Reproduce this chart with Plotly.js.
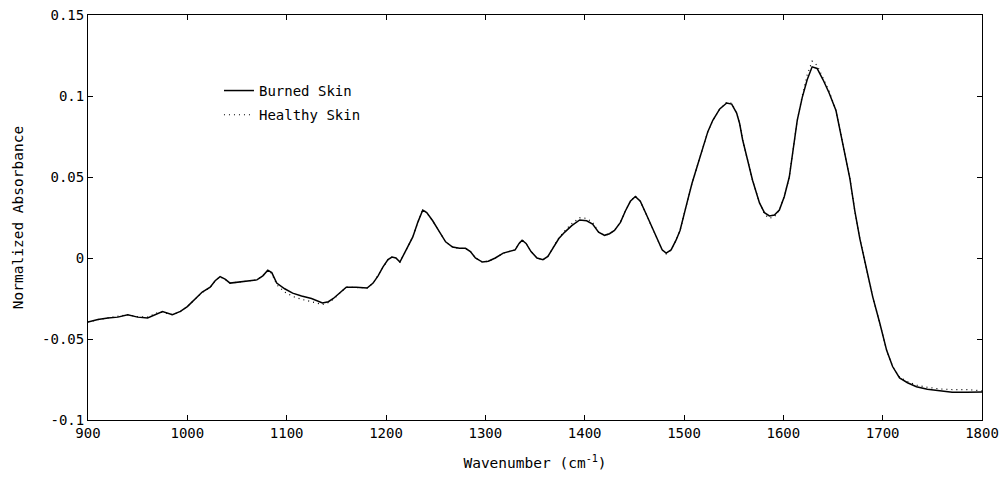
<!DOCTYPE html>
<html>
<head>
<meta charset="utf-8">
<script src="https://cdn.plot.ly/plotly-3.0.1.min.js"></script>
<style>html,body{margin:0;padding:0;background:#fff;}#chart{width:1002px;height:477px;}</style>
</head>
<body>
<div id="chart"></div>
<script>
const wavenumber = [900,910,920,930,940,950,960,970,975,985,993,1000,1008,1015,1023,1028,1033,1038,1043,1050,1060,1070,1076,1081,1085,1090,1098,1106,1115,1125,1136,1142,1147,1153,1160,1170,1181,1187,1192,1197,1202,1206,1210,1214,1218,1222,1227,1232,1237,1241,1247,1254,1260,1267,1274,1280,1285,1290,1297,1303,1310,1318,1325,1330,1334,1337,1341,1346,1352,1358,1363,1368,1374,1380,1387,1395,1402,1408,1414,1420,1425,1430,1436,1441,1446,1451,1456,1462,1468,1474,1478,1482,1487,1492,1496,1503,1508,1513,1519,1524,1529,1536,1543,1548,1553,1556,1559,1564,1569,1576,1581,1586,1591,1596,1601,1606,1610,1614,1619,1624,1629,1634,1640,1646,1653,1660,1667,1672,1677,1684,1690,1697,1704,1710,1717,1725,1734,1745,1757,1770,1785,1800];

const burnedSkin = [-0.0395,-0.038,-0.037,-0.0365,-0.035,-0.0365,-0.037,-0.034,-0.033,-0.035,-0.033,-0.030,-0.025,-0.021,-0.018,-0.014,-0.0115,-0.013,-0.0155,-0.015,-0.014,-0.0135,-0.011,-0.0075,-0.009,-0.0155,-0.019,-0.0217,-0.0235,-0.025,-0.0277,-0.027,-0.025,-0.022,-0.018,-0.018,-0.0185,-0.0155,-0.011,-0.0055,-0.001,0.0006,0.000,-0.0025,0.002,0.007,0.013,0.022,0.0296,0.028,0.023,0.016,0.010,0.0068,0.006,0.006,0.004,0.000,-0.0025,-0.002,0.000,0.003,0.004,0.005,0.009,0.011,0.009,0.004,0.000,-0.001,0.001,0.006,0.012,0.016,0.020,0.0235,0.023,0.021,0.016,0.014,0.015,0.017,0.022,0.029,0.035,0.038,0.035,0.027,0.019,0.010,0.005,0.003,0.005,0.011,0.017,0.034,0.046,0.056,0.0685,0.078,0.085,0.092,0.0957,0.095,0.0895,0.083,0.073,0.060,0.048,0.034,0.028,0.026,0.0265,0.0296,0.038,0.050,0.066,0.085,0.099,0.110,0.118,0.117,0.110,0.102,0.091,0.071,0.049,0.029,0.012,-0.0074,-0.024,-0.040,-0.057,-0.067,-0.074,-0.077,-0.0795,-0.081,-0.082,-0.0828,-0.0828,-0.0827];

const healthySkin = [-0.0395,-0.038,-0.037,-0.0362,-0.035,-0.0362,-0.0365,-0.0338,-0.0335,-0.035,-0.0332,-0.030,-0.025,-0.0212,-0.0182,-0.0142,-0.0115,-0.0132,-0.0155,-0.015,-0.0142,-0.0135,-0.011,-0.0078,-0.0095,-0.0165,-0.021,-0.0237,-0.0255,-0.027,-0.0287,-0.0275,-0.0255,-0.022,-0.018,-0.0182,-0.0185,-0.0155,-0.0108,-0.0055,-0.001,0.0006,0.000,-0.0025,0.002,0.007,0.013,0.022,0.0298,0.028,0.023,0.016,0.010,0.0068,0.0058,0.006,0.004,0.000,-0.0025,-0.002,0.000,0.003,0.004,0.005,0.009,0.0112,0.009,0.004,0.000,-0.001,0.001,0.006,0.0125,0.0168,0.0212,0.0248,0.0245,0.022,0.0162,0.014,0.0148,0.017,0.022,0.029,0.035,0.0382,0.035,0.027,0.019,0.010,0.005,0.0025,0.005,0.011,0.017,0.034,0.046,0.056,0.0685,0.078,0.085,0.092,0.0962,0.0955,0.0895,0.083,0.073,0.060,0.048,0.034,0.027,0.0245,0.0255,0.0296,0.038,0.050,0.066,0.085,0.100,0.113,0.1215,0.119,0.111,0.103,0.091,0.071,0.049,0.029,0.012,-0.0074,-0.024,-0.040,-0.057,-0.067,-0.0735,-0.0762,-0.0785,-0.0798,-0.0808,-0.0812,-0.0812,-0.082];

const yTickVals = [-0.1,-0.05,0,0.05,0.1,0.15];
const yTickText = ['-0.1','-0.05','0','0.05','0.1','0.15'];
const xTickVals = [900,1000,1100,1200,1300,1400,1500,1600,1700,1800];

const FONT = '"DejaVu Sans Mono", "Liberation Mono", monospace';

const traces = [
  {x: wavenumber, y: burnedSkin, type: 'scatter', mode: 'lines', name: 'Burned Skin',
   legendgroup: 'a', line: {color: '#000', width: 1.5}},
  {x: wavenumber, y: healthySkin, type: 'scatter', mode: 'lines', name: 'Healthy Skin',
   legendgroup: 'b', line: {color: '#000', width: 1.2, dash: '1px,4px'}}
];

const layout = {
  width: 1002, height: 477,
  margin: {l: 88, r: 20, t: 15, b: 57},
  paper_bgcolor: '#fff', plot_bgcolor: '#fff',
  font: {family: FONT, size: 14, color: '#000'},
  showlegend: true,
  legend: {x: 0.1465, y: 0.852, xanchor: 'left', yanchor: 'top', bgcolor: 'rgba(0,0,0,0)',
           borderwidth: 0, traceorder: 'grouped', tracegroupgap: 3,
           font: {family: FONT, size: 14, color: '#000'}},
  xaxis: {range: [900, 1800], tickmode: 'array', tickvals: xTickVals,
          ticks: 'inside', ticklen: 5, tickwidth: 1, tickcolor: '#000',
          showline: true, linecolor: '#000', linewidth: 1, mirror: 'ticks',
          showgrid: false, zeroline: false,
          tickfont: {family: FONT, size: 14},
          title: {text: 'Wavenumber (cm<sup>-1</sup>)', font: {family: FONT, size: 14.5}, standoff: 18}},
  yaxis: {range: [-0.1, 0.15], tickmode: 'array', tickvals: yTickVals, ticktext: yTickText,
          ticks: 'inside', ticklen: 5, tickwidth: 1, tickcolor: '#000',
          showline: true, linecolor: '#000', linewidth: 1, mirror: 'ticks',
          showgrid: false, zeroline: false,
          tickfont: {family: FONT, size: 14},
          title: {text: 'Normalized Absorbance', font: {family: FONT, size: 14.5}, standoff: 14}}
};

Plotly.newPlot('chart', traces, layout, {displayModeBar: false, staticPlot: true});
</script>
</body>
</html>
